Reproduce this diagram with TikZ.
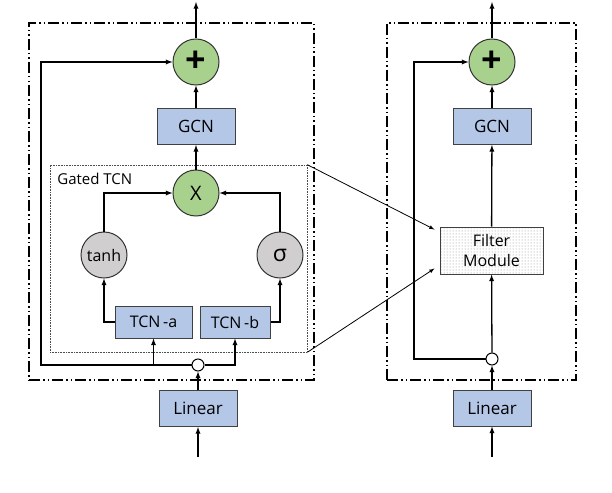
\documentclass[tikz,border=0pt]{standalone}
\usepackage{fontspec}
\setmainfont{Open Sans}
\usetikzlibrary{patterns}
\definecolor{blkblue}{HTML}{B4C7E7}
\definecolor{opgreen}{HTML}{A9D18E}
\definecolor{gategray}{HTML}{D0CECE}

\begin{document}
\begin{tikzpicture}[x=1pt, y=-1pt, >=latex, line width=1.3pt,
	blk/.style={draw=black!75, line width=1pt, fill=blkblue, minimum width=78pt, minimum height=36pt, inner sep=0pt, font=\fontsize{17}{19}\selectfont},
	op/.style={circle, draw=black!80, line width=1pt, fill=opgreen, minimum size=46pt, inner sep=0pt},
	gate/.style={circle, draw=black!80, line width=1pt, fill=gategray, minimum size=46pt, inner sep=0pt, font=\fontsize{16}{18}\selectfont},
	split/.style={circle, draw, line width=1pt, fill=white, minimum size=12pt, inner sep=0pt},
	outbox/.style={draw, line width=1.2pt, dash pattern=on 11pt off 3pt on 1.5pt off 3pt on 1.5pt off 3pt, minimum height=357pt, inner sep=0pt},
	filtbox/.style={draw=black!75, line width=1pt, pattern=dots, pattern color=black!45, minimum width=103pt, minimum height=47pt, inner sep=0pt, align=center, font=\fontsize{16}{20}\selectfont}]
 \useasboundingbox (0,0) rectangle (612,492);
 % frames
 \node[outbox, minimum width=285pt] (outL) at (171.5,201.5) {};
 \node[outbox, minimum width=189pt] (outR) at (481.5,201.5) {};
 \node[draw=black!70, densely dotted, line width=0.6pt, minimum width=257pt, minimum height=187pt, inner sep=0pt] (gated) at (178.5,258.5) {};
 \node[anchor=north west, inner sep=0pt, font=\fontsize{15}{17}\selectfont] (gatedlbl) at ([xshift=7pt,yshift=-8pt]gated.north west) {Gated TCN};

 % left block
 \node[op, font=\bfseries\fontsize{36}{36}\selectfont] (addL) at (196,62) {+};
 \node[blk] (gcnL) at (196,126.5) {GCN};
 \node[op, font=\fontsize{20}{20}\selectfont] (mulL) at (196,193) {X};
 \node[gate] (tanh) at (104,255) {tanh};
 \node[gate, font=\fontsize{23}{23}\selectfont] (sig) at (280,255) {σ};
 \node[blk, minimum width=77pt, minimum height=32pt, font=\fontsize{16}{18}\selectfont] (tcna) at (153.5,322) {TCN\,-a};
 \node[blk, minimum width=70pt, minimum height=32pt, font=\fontsize{16}{18}\selectfont] (tcnb) at (235,322) {TCN\,-b};
 \node[split] (spL) at (198,365) {};
 \node[blk] (linL) at (198,408.5) {Linear};
 \coordinate (inL) at (198,457);
 \coordinate (topL) at (196,2);
 \coordinate (skipL) at (41,365);

 \draw[->] (inL) -- (linL);
 \draw[->] (linL) -- (spL);
 \draw[->] (spL) -| (tcna);
 \draw[->] (spL) -| (tcnb);
 \draw[->] (spL) -- (skipL) |- (addL);
 \draw[->] (tcna) -| (tanh);
 \draw[->] (tcnb) -| (sig);
 \draw[->] (tanh) |- (mulL);
 \draw[->] (sig) |- (mulL);
 \draw[->] (mulL) -- (gcnL);
 \draw[->] (gcnL) -- (addL);
 \draw[->] (addL) -- (topL);

 % right block
 \node[op, font=\bfseries\fontsize{36}{36}\selectfont] (addR) at (492,62) {+};
 \node[blk] (gcnR) at (492,126.5) {GCN};
 \node[filtbox] (filt) at (491.5,250.5) {Filter\\Module};
 \node[split] (spR) at (492,359) {};
 \node[blk] (linR) at (492,408) {Linear};
 \coordinate (inR) at (492,457);
 \coordinate (topR) at (492,2);
 \coordinate (skipR) at (414,359);

 \draw[->] (inR) -- (linR);
 \draw[->] (linR) -- (spR);
 \draw[->] (spR) -- (filt);
 \draw[->] (filt) -- (gcnR);
 \draw[->] (gcnR) -- (addR);
 \draw[->] (addR) -- (topR);
 \draw[->] (spR) -- (skipR) |- (addR);

 % gated TCN -> filter module
 \coordinate (fin1) at ([xshift=-5pt,yshift=-3pt]filt.north west);
 \coordinate (fin2) at ([xshift=-5pt,yshift=6pt]filt.south west);
 \draw[->, line width=0.8pt] (gated.north east) -- (fin1);
 \draw[->, line width=0.8pt] (gated.south east) -- (fin2);
\end{tikzpicture}
\end{document}
